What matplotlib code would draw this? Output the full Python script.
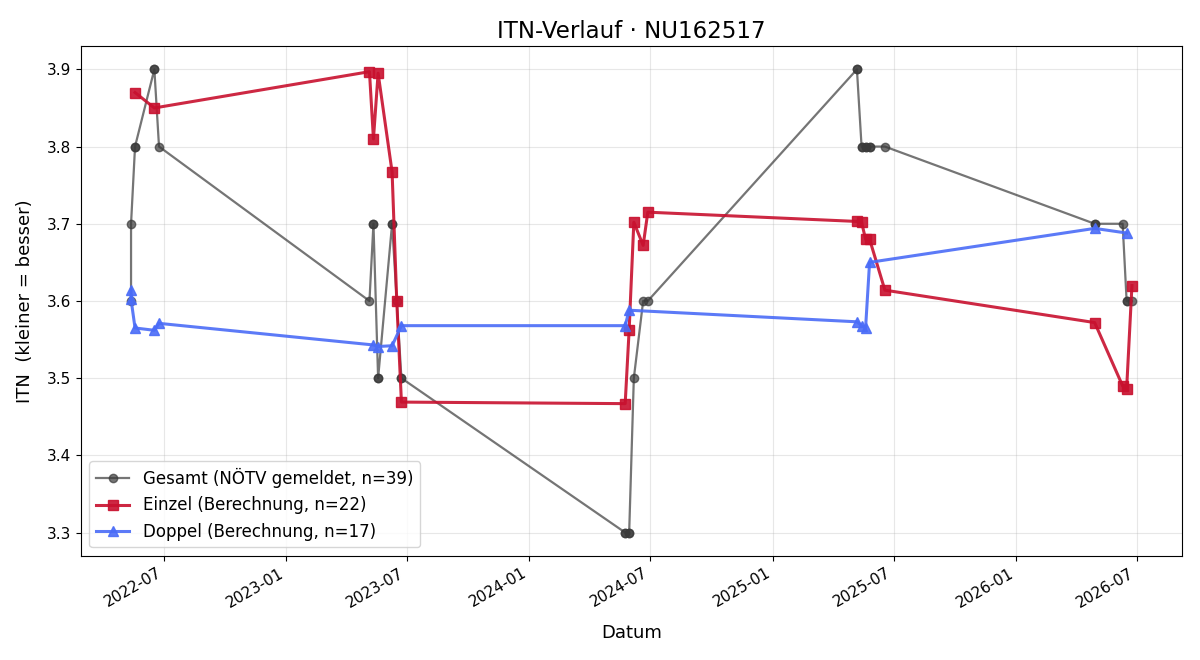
import matplotlib
matplotlib.use("Agg")
import matplotlib.pyplot as plt
import matplotlib.dates as mdates
import pandas as pd

# Gesamt (vom NÖTV gemeldet)
gesamt_datum = [
    "2022-05-13", "2022-05-13", "2022-05-19", "2022-05-19", "2022-06-17", "2022-06-17", "2022-06-24",
    "2023-05-06", "2023-05-12", "2023-05-12", "2023-05-19", "2023-05-19", "2023-06-09", "2023-06-09",
    "2023-06-16", "2023-06-23", "2023-06-23",
    "2024-05-24", "2024-05-24", "2024-05-30", "2024-05-30", "2024-06-06", "2024-06-20", "2024-06-27",
    "2025-05-07", "2025-05-07", "2025-05-14", "2025-05-14", "2025-05-20", "2025-05-20", "2025-05-26",
    "2025-05-26", "2025-06-18",
    "2026-04-29", "2026-04-29", "2026-06-10", "2026-06-16", "2026-06-16", "2026-06-24",
]
gesamt_itn = [
    3.6, 3.7, 3.8, 3.8, 3.9, 3.9, 3.8,
    3.6, 3.7, 3.7, 3.5, 3.5, 3.7, 3.7,
    3.6, 3.5, 3.5,
    3.3, 3.3, 3.3, 3.3, 3.5, 3.6, 3.6,
    3.9, 3.9, 3.8, 3.8, 3.8, 3.8, 3.8,
    3.8, 3.8,
    3.7, 3.7, 3.7, 3.6, 3.6, 3.6,
]

# Einzel (Berechnung)
einzel_datum = [
    "2022-05-19", "2022-06-17",
    "2023-05-06", "2023-05-12", "2023-05-19", "2023-06-09", "2023-06-16", "2023-06-23",
    "2024-05-24", "2024-05-30", "2024-06-06", "2024-06-20", "2024-06-27",
    "2025-05-07", "2025-05-14", "2025-05-20", "2025-05-26", "2025-06-18",
    "2026-04-29", "2026-06-10", "2026-06-16", "2026-06-24",
]
einzel_itn = [
    3.870, 3.850,
    3.897, 3.810, 3.895, 3.767, 3.600, 3.469,
    3.467, 3.563, 3.702, 3.672, 3.715,
    3.703, 3.702, 3.680, 3.680, 3.614,
    3.572, 3.490, 3.486, 3.620,
]

# Doppel (Berechnung)
doppel_datum = [
    "2022-05-13", "2022-05-13", "2022-05-19", "2022-06-17", "2022-06-24",
    "2023-05-12", "2023-05-19", "2023-06-09", "2023-06-23",
    "2024-05-24", "2024-05-30",
    "2025-05-07", "2025-05-14", "2025-05-20", "2025-05-26",
    "2026-04-29", "2026-06-16",
]
doppel_itn = [
    3.614, 3.602, 3.565, 3.562, 3.571,
    3.543, 3.541, 3.542, 3.568,
    3.568, 3.588,
    3.573, 3.568, 3.565, 3.650,
    3.694, 3.688,
]

fig, ax = plt.subplots(figsize=(12, 6.6), dpi=100)

ax.plot(pd.to_datetime(gesamt_datum), gesamt_itn, marker="o", color="#3a3a3a", alpha=0.7,
        linewidth=1.6, markersize=6, label=f"Gesamt (NÖTV gemeldet, n={len(gesamt_itn)})")
ax.plot(pd.to_datetime(einzel_datum), einzel_itn, marker="s", color="#c8102e", alpha=0.9,
        linewidth=2.2, markersize=7, label=f"Einzel (Berechnung, n={len(einzel_itn)})")
ax.plot(pd.to_datetime(doppel_datum), doppel_itn, marker="^", color="#4a6cf7", alpha=0.9,
        linewidth=2.2, markersize=7, label=f"Doppel (Berechnung, n={len(doppel_itn)})")

ax.set_title("ITN-Verlauf · NU162517", fontsize=16.5)
ax.set_xlabel("Datum", fontsize=13, labelpad=10)
ax.set_ylabel("ITN  (kleiner = besser)", fontsize=13, labelpad=9)
ax.tick_params(labelsize=11)
ax.grid(True, alpha=0.3)
ax.xaxis.set_major_formatter(mdates.DateFormatter("%Y-%m"))
ax.legend(loc="lower left", fontsize=12)
fig.autofmt_xdate()
fig.subplots_adjust(left=0.0675, right=0.985, top=0.930, bottom=0.158)
fig.savefig("out.png")
